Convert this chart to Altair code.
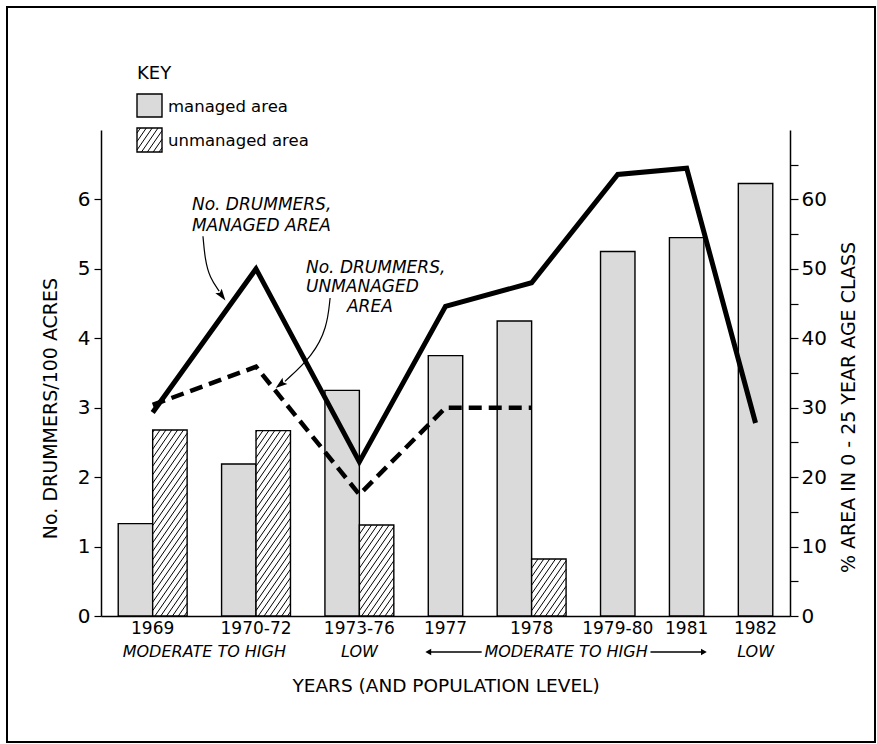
import altair as alt
import pandas as pd

# ---------------------------------------------------------------- data
periods = ["1969", "1970-72", "1973-76", "1977", "1978", "1979-80", "1981", "1982"]
# % of area in the 0-25 year age class
managed_pct = [13.3, 21.9, 32.5, 37.5, 42.5, 52.5, 54.5, 62.3]
unmanaged_pct = [26.8, 26.7, 13.1, None, 8.2, None, None, None]
# drummers per 100 acres
drummers_managed = [2.93, 5.0, 2.22, 4.46, 4.8, 6.36, 6.45, 2.78]
drummers_unmanaged = [3.04, 3.59, 1.75, 3.0, 3.0, None, None, None]
# population level written under the years
level_labels = ["MODERATE TO HIGH", "LOW", "MODERATE TO HIGH", "LOW"]
level_first = [0, 2, 3, 7]
level_last = [1, 2, 6, 7]
level_arrows = [False, False, True, False]

# ---------------------------------------------------------------- layout
W, H = 689, 486
PCT_MAX, DRUM_MAX = 70, 7
FONT = "DejaVu Sans"
MANAGED_FILL = "#dadada"

# every bar takes one slot, every period is followed by a one-slot gap
bar_rows, centers, starts, ends = [], [], [], []
pos = 0.5
for i, period in enumerate(periods):
    vals = [("managed area", managed_pct[i])]
    if unmanaged_pct[i] is not None:
        vals.append(("unmanaged area", unmanaged_pct[i]))
    for j, (kind, v) in enumerate(vals):
        bar_rows.append({"period": period, "kind": kind, "pct": v, "base": 0,
                         "x0": pos + j, "x1": pos + j + 1})
    starts.append(pos)
    ends.append(pos + len(vals))
    centers.append(pos + len(vals) / 2)
    pos += len(vals) + 1
X_MAX = pos - 0.5
bars = pd.DataFrame(bar_rows)

PX_X = W / X_MAX          # pixels per slot
PX_PCT = H / PCT_MAX      # pixels per percent


def hatch(x0, x1, y0, y1, slope=1.45, step=8.5):
    """Diagonal '/' hatch segments inside a box given in pixels (y upward)."""
    w, h = x1 - x0, y1 - y0
    segs = []
    c = -slope * w + step / 2
    while c < h:
        a = max(0.0, -c / slope)
        b = min(w, (h - c) / slope)
        if b - a > 0.3:
            segs.append((x0 + a, y0 + c + slope * a, x0 + b, y0 + c + slope * b))
        c += step
    return segs


hatch_rows = []
for r in bar_rows:
    if r["kind"] == "unmanaged area":
        for ax, ay, bx, by in hatch(r["x0"] * PX_X, r["x1"] * PX_X, 0, r["pct"] * PX_PCT):
            hatch_rows.append({"x": ax / PX_X, "x2": bx / PX_X,
                               "y": ay / PX_PCT, "y2": by / PX_PCT})
# hatch for the key swatch (box 36..61 px across, 2 px above to 22 px below the plot top)
for ax, ay, bx, by in hatch(36, 61, H - 22, H + 2):
    hatch_rows.append({"x": ax / PX_X, "x2": bx / PX_X,
                       "y": ay / PX_PCT, "y2": by / PX_PCT})
hatches = pd.DataFrame(hatch_rows)

line_m = pd.DataFrame({"slot": centers, "drummers": drummers_managed})
line_u = pd.DataFrame({"slot": centers, "drummers": drummers_unmanaged}).dropna()

years = pd.DataFrame({"slot": centers, "period": periods})

TEXT_HALF = 2.45   # half width of "MODERATE TO HIGH" in slots
lvl_rows, arrow_rows, head_rows = [], [], []
for lab, a, b, arr in zip(level_labels, level_first, level_last, level_arrows):
    mid = (centers[a] + centers[b]) / 2
    lvl_rows.append({"slot": mid, "label": lab})
    if arr:
        arrow_rows.append({"x": starts[a], "x2": mid - TEXT_HALF})
        arrow_rows.append({"x": mid + TEXT_HALF, "x2": ends[b]})
        head_rows.append({"x": starts[a], "shape": "triangle-left"})
        head_rows.append({"x": ends[b], "shape": "triangle-right"})
levels = pd.DataFrame(lvl_rows)
level_lines = pd.DataFrame(arrow_rows)
level_heads = pd.DataFrame(head_rows)

# annotation labels for the two drummer lines (slot, drummers)
notes = pd.DataFrame({
    "slot": [2.64, 2.64, 5.95, 5.95, 7.14],
    "drummers": [5.92, 5.62, 5.01, 4.74, 4.45],
    "text": ["No. DRUMMERS,", "MANAGED AREA", "No. DRUMMERS,", "UNMANAGED", "AREA"],
})
leaders = pd.DataFrame({
    "slot": [2.96, 3.02, 3.16, 3.43, 6.65, 6.56, 6.15, 5.34],
    "drummers": [5.47, 5.13, 4.87, 4.68, 4.58, 4.15, 3.75, 3.38],
    "which": ["m"] * 4 + ["u"] * 4,
    "order": [0, 1, 2, 3, 0, 1, 2, 3],
})
leader_heads = pd.DataFrame({
    "slot": [3.50, 5.22],
    "drummers": [4.62, 3.34],
    "angle": [144, 232],
})

# ---------------------------------------------------------------- chart
xscale = alt.Scale(domain=[0, X_MAX], nice=False, zero=False)
pct_scale = alt.Scale(domain=[0, PCT_MAX], nice=False, zero=True)
drum_scale = alt.Scale(domain=[0, DRUM_MAX], nice=False, zero=True)

left_axis = alt.Axis(
    orient="left", values=[k / 2 for k in range(14)], format="d",
    labelExpr="datum.value % 1 == 0 ? datum.label : ''",
    labelOverlap=False, tickSize=7, labelPadding=4, labelFontSize=20,
    title="No. DRUMMERS/100 ACRES", titleFontSize=19, titleAngle=270,
    titleX=-51, titleY=278, titleAlign="center", titleBaseline="middle",
    grid=False,
)
right_axis = alt.Axis(
    orient="right", values=list(range(0, 70, 5)), format="d",
    labelExpr="datum.value % 10 == 0 ? datum.label : ''",
    labelOverlap=False, tickSize=8, labelPadding=3, labelFontSize=20,
    title="% AREA IN 0 - 25 YEAR AGE CLASS", titleFontSize=19, titleAngle=270,
    titleX=58, titleY=277, titleAlign="center", titleBaseline="middle",
    grid=False,
)
x_axis = alt.Axis(labels=False, ticks=False, grid=False,
                  title="YEARS (AND POPULATION LEVEL)", titleFontSize=18.5,
                  titleY=69, titleBaseline="middle")


def xenc(field):
    return alt.X(field, scale=xscale, axis=x_axis)


bar_layer = alt.Chart(bars).mark_rect(stroke="black", strokeWidth=1.4).encode(
    x=xenc("x0:Q"),
    x2="x1:Q",
    y=alt.Y("pct:Q", scale=pct_scale, axis=right_axis),
    y2="base:Q",
    fill=alt.Fill("kind:N", scale=alt.Scale(domain=["managed area", "unmanaged area"],
                                            range=[MANAGED_FILL, "white"]), legend=None),
)

hatch_layer = alt.Chart(hatches).mark_rule(color="black", strokeWidth=1).encode(
    x=xenc("x:Q"), x2="x2:Q",
    y=alt.Y("y:Q", scale=pct_scale, axis=None), y2="y2:Q",
)

managed_line = alt.Chart(line_m).mark_line(
    color="black", strokeWidth=5, strokeJoin="miter", strokeCap="butt"
).encode(
    x=xenc("slot:Q"),
    y=alt.Y("drummers:Q", scale=drum_scale, axis=left_axis),
)

unmanaged_line = alt.Chart(line_u).mark_line(
    color="black", strokeWidth=4.5, strokeDash=[13, 7], strokeJoin="miter", strokeCap="butt"
).encode(
    x=xenc("slot:Q"),
    y=alt.Y("drummers:Q", scale=drum_scale, axis=None),
)

note_text = alt.Chart(notes).mark_text(
    font=FONT, fontSize=17, fontStyle="italic", align="left", baseline="middle", color="black"
).encode(
    x=xenc("slot:Q"),
    y=alt.Y("drummers:Q", scale=drum_scale, axis=None),
    text="text:N",
)

leader_lines = alt.Chart(leaders).mark_line(
    color="black", strokeWidth=1.2, interpolate="basis"
).encode(
    x=xenc("slot:Q"),
    y=alt.Y("drummers:Q", scale=drum_scale, axis=None),
    detail="which:N",
    order="order:Q",
)

leader_tips = alt.Chart(leader_heads).mark_point(
    shape="M0,-1L0.6,0.8L0,0.45L-0.6,0.8Z", filled=True, color="black", opacity=1, size=170
).encode(
    x=xenc("slot:Q"),
    y=alt.Y("drummers:Q", scale=drum_scale, axis=None),
    angle=alt.Angle("angle:Q", scale=None),
)

year_text = alt.Chart(years).mark_text(
    font=FONT, fontSize=17, baseline="middle", color="black"
).encode(
    x=xenc("slot:Q"),
    y=alt.value(H + 13),
    text="period:N",
)

level_text = alt.Chart(levels).mark_text(
    font=FONT, fontSize=16, fontStyle="italic", baseline="middle", color="black"
).encode(
    x=xenc("slot:Q"),
    y=alt.value(H + 36),
    text="label:N",
)

level_rules = alt.Chart(level_lines).mark_rule(color="black", strokeWidth=1.3).encode(
    x=xenc("x:Q"), x2="x2:Q", y=alt.value(H + 36),
)

level_tips = alt.Chart(level_heads).mark_point(
    filled=True, color="black", opacity=1, size=45
).encode(
    x=xenc("x:Q"),
    y=alt.value(H + 36),
    shape=alt.Shape("shape:N", scale=None),
)

# key in the upper left
key_title = alt.Chart(pd.DataFrame({"t": ["KEY"]})).mark_text(
    font=FONT, fontSize=18, align="left", baseline="middle", color="black"
).encode(x=alt.value(36), y=alt.value(-56), text="t:N")

key_swatch_m = alt.Chart(pd.DataFrame({"k": ["managed area"]})).mark_rect(
    fill=MANAGED_FILL, stroke="black", strokeWidth=1.4
).encode(x=alt.value(36), x2=alt.value(61), y=alt.value(-36), y2=alt.value(-13))

key_swatch_u = alt.Chart(pd.DataFrame({"k": ["unmanaged area"]})).mark_rect(
    fillOpacity=0, stroke="black", strokeWidth=1.4
).encode(x=alt.value(36), x2=alt.value(61), y=alt.value(-2), y2=alt.value(22))

key_labels = alt.Chart(pd.DataFrame({
    "t": ["managed area", "unmanaged area"], "yy": [-23, 11]
})).mark_text(
    font=FONT, fontSize=16.5, align="left", baseline="middle", color="black"
).encode(x=alt.value(67), y=alt.Y("yy:Q", scale=None, axis=None), text="t:N")

frame = alt.Chart(pd.DataFrame({"k": [0]})).mark_rect(
    fillOpacity=0, stroke="black", strokeWidth=2
).encode(x=alt.value(-94), x2=alt.value(774), y=alt.value(-123), y2=alt.value(612))

chart = alt.layer(
    bar_layer, hatch_layer, managed_line, unmanaged_line,
    note_text, leader_lines, leader_tips,
    year_text, level_text, level_rules, level_tips,
    key_title, key_swatch_m, key_swatch_u, key_labels, frame,
).resolve_scale(
    y="independent"
).properties(
    width=W, height=H,
    autosize=alt.AutoSizeParams(type="none"),
    padding={"left": 101, "top": 130, "right": 877 - 101 - W, "bottom": 744 - 130 - H},
    background="white",
).configure_view(
    stroke=None
).configure_axis(
    domainColor="black", domainWidth=1.5, tickColor="black", tickWidth=1.2,
    labelColor="black", titleColor="black", labelFont=FONT, titleFont=FONT,
    titleFontWeight="normal",
)

chart.save("out.html", embed_options={"renderer": "svg", "actions": False})
